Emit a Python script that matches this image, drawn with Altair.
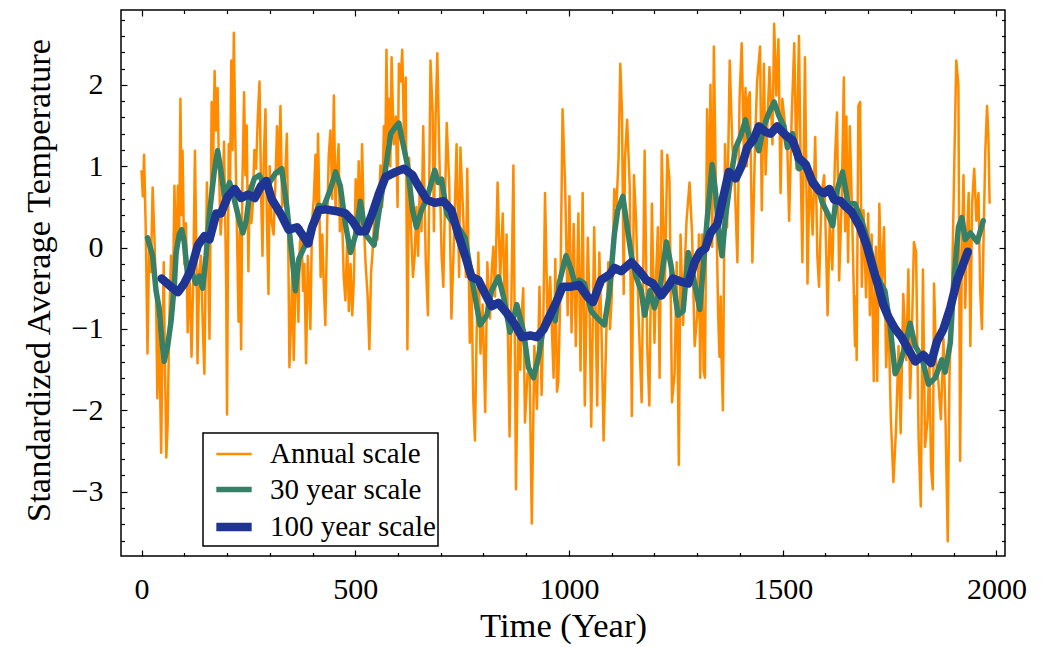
import altair as alt
import pandas as pd

# ---------------- data ----------------
annual_0_300 = [
    (0, 0.95), (3, 0.63), (6, 1.14), (10, 0.20), (14, -1.30), (18, 0.10), (22, -0.30), (26, 0.74),
    (30, 0.16), (34, -0.60), (37, -1.85), (41, -0.90), (46, -2.52), (49, -1.20), (52, -0.18),
    (55, -1.50), (58, -2.58), (61, -2.20), (65, -0.90), (69, -0.10), (73, -0.80), (77, 0.76),
    (81, -0.30), (85, 0.76), (88, 0.10), (91, 1.83), (94, 0.40), (96, 1.19), (100, -0.20),
    (104, 0.30), (108, -1.04), (112, -0.20), (117, -1.34), (121, -0.40), (125, 1.19), (128, 0.10),
    (131, -1.42), (135, -0.30), (139, -0.10), (143, -0.90), (147, -1.55), (150, -0.30), (153, 0.80),
    (156, -0.20), (159, -1.12), (162, 0.50), (164, 1.79), (167, 0.90), (171, 2.17), (174, 1.44),
    (178, 1.96), (181, 1.00), (185, 0.16), (189, 0.50), (193, 1.30), (196, 0.30), (198, -0.44),
    (200, -2.05), (204, 1.27), (207, 0.70), (210, 2.30), (213, 1.20), (216, 2.64), (219, 1.49),
    (223, 0.30), (227, -0.91), (230, 0.20), (233, -1.25), (236, 0.80), (240, 1.91), (243, 0.89),
    (246, 1.50), (250, -0.29), (253, 0.76), (257, 0.30), (260, 0.50), (264, 1.20), (268, 0.97),
    (272, 1.60), (276, 2.04), (280, 0.60), (283, -0.10), (286, 1.10), (290, 1.70), (293, 0.40),
    (297, -0.57), (300, 1.00),
]
annual_300_635 = [
    (304, 0.33), (309, 0.16), (313, 0.76), (317, 1.49), (321, 0.90), (325, 1.74), (329, 0.50),
    (333, 0.67), (337, 1.00), (340, 1.40), (343, 0.20), (346, -1.47), (350, -0.87), (353, -0.20),
    (356, -1.38), (360, -0.50), (364, -0.18), (367, -0.91), (370, 0.00), (374, 0.25), (378, -0.53),
    (381, -0.20), (385, -1.42), (389, -0.10), (392, -0.50), (395, -1.00), (399, 0.33), (403, 0.60),
    (407, 1.14), (410, 0.30), (413, 1.40), (416, 0.50), (419, -0.36), (423, 0.16), (426, -0.40),
    (430, -0.95), (434, 0.20), (438, 1.14), (442, 1.44), (446, 0.60), (450, 1.87), (454, 0.42),
    (457, 0.90), (461, 1.27), (464, 0.20), (468, 0.63), (473, -0.36), (477, -0.65), (481, 0.10),
    (485, -0.78), (489, -0.20), (493, -0.83), (497, -0.36), (501, 0.84), (505, 0.20), (508, 1.06),
    (512, 0.16), (516, 1.27), (520, 0.30), (524, -0.18), (529, -0.60), (533, -1.25), (537, -0.30),
    (540, -0.10), (544, 0.30), (548, 0.67), (552, 0.10), (556, 0.60), (559, 1.01), (563, 0.50),
    (567, 1.49), (570, 1.00), (573, 2.43), (576, 1.30), (579, 1.83), (582, 1.00), (585, 2.34),
    (590, 1.27), (595, 1.61), (599, 0.50), (602, 2.26), (606, 2.04), (610, 2.43), (614, 1.36),
    (618, 2.09), (622, -1.25), (626, 1.10), (630, 0.30), (635, -0.36),
]
annual_635_970 = [
    (639, -0.10), (643, 0.50), (647, -0.10), (651, 0.80), (655, 0.20), (659, 1.49), (665, -0.18),
    (670, -0.83), (676, 2.30), (681, 1.66), (684, 0.20), (688, 1.61), (692, 2.39), (696, 1.31),
    (702, -0.10), (706, -0.48), (710, 0.60), (714, 1.53), (720, 0.76), (725, -0.87), (731, 0.12),
    (737, 1.27), (743, -0.36), (746, 1.23), (753, 0.33), (759, -0.36), (762, 0.97), (768, -1.17),
    (772, -0.40), (776, -1.85), (780, -2.37), (784, -1.04), (788, -0.06), (793, -1.30), (798, -0.70),
    (804, -2.02), (809, -0.18), (815, -0.87), (819, -0.30), (823, 0.01), (827, -0.60), (833, 0.80),
    (839, -0.40), (845, 0.42), (850, -0.78), (854, 0.16), (857, -1.00), (861, -2.32), (866, -0.36),
    (870, 1.01), (876, -2.97), (882, -0.74), (886, -1.50), (889, -0.87), (893, -0.50), (897, -2.15),
    (903, -1.55), (908, -1.51), (913, -3.39), (919, -1.21), (925, -1.98), (931, -0.48), (936, -1.81),
    (940, -0.90), (944, 0.67), (950, -0.95), (956, -0.36), (960, -1.00), (964, -1.60), (968, -0.14),
]
annual_970_1300 = [
    (972, -1.77), (975, -1.64), (980, -0.50), (985, 1.70), (991, 0.76), (997, -0.83), (1001, 0.63),
    (1006, -1.04), (1011, 0.29), (1016, -1.21), (1022, 0.42), (1027, -1.51), (1032, 0.67),
    (1037, -1.94), (1044, 0.12), (1048, -0.70), (1052, -2.20), (1059, 0.25), (1066, -1.94),
    (1071, -0.06), (1076, -1.00), (1081, -2.37), (1087, -1.12), (1092, -0.18), (1096, -1.00),
    (1100, -0.61), (1106, 0.72), (1111, 0.50), (1116, 1.10), (1120, 2.26), (1124, 1.66),
    (1128, -0.57), (1131, 1.10), (1136, 1.57), (1142, 0.76), (1147, -2.07), (1152, 0.89),
    (1157, 0.33), (1163, -0.87), (1170, -1.90), (1177, 1.19), (1183, -1.21), (1188, -1.94),
    (1194, 0.54), (1200, -1.17), (1204, -0.30), (1208, 0.25), (1212, -1.60), (1217, 1.19),
    (1224, -0.53), (1230, 1.14), (1235, 0.84), (1241, -1.90), (1247, -1.55), (1252, -0.18),
    (1257, -2.67), (1261, 0.16), (1267, -0.95), (1271, -0.20), (1275, 0.33), (1282, 0.80),
    (1288, 0.16), (1294, -1.21), (1300, -0.83),
]
annual_1300_1640 = [
    (1304, 0.16), (1307, -1.60), (1311, 0.16), (1315, -1.51), (1318, -1.60), (1323, 1.70),
    (1327, 0.50), (1331, 2.00), (1335, 0.01), (1339, 2.47), (1343, 0.97), (1349, -0.83),
    (1352, -1.34), (1355, -0.60), (1357, -1.38), (1360, -2.00), (1365, 1.27), (1370, 0.25),
    (1376, 2.30), (1382, 1.27), (1388, 0.76), (1394, -0.18), (1399, 1.83), (1404, 2.51),
    (1409, 1.19), (1413, 1.96), (1416, 1.00), (1419, 1.83), (1423, 1.91), (1429, -0.18),
    (1435, 1.23), (1440, 2.04), (1447, 2.47), (1451, 0.46), (1456, 2.26), (1460, 0.90),
    (1464, 1.49), (1469, 2.22), (1476, 1.27), (1480, 2.75), (1485, 1.87), (1490, 2.56),
    (1495, 0.67), (1499, 1.83), (1505, 1.53), (1511, 1.19), (1515, 0.33), (1521, 1.61),
    (1527, 2.51), (1532, 0.97), (1538, 2.60), (1542, 1.00), (1546, -0.18), (1552, 2.34),
    (1558, -0.44), (1563, 0.97), (1570, 0.16), (1576, 1.36), (1581, -0.10), (1585, -0.48),
    (1591, 0.67), (1597, 0.89), (1601, 0.10), (1605, -0.83), (1610, 0.33), (1616, -0.27),
    (1622, 1.06), (1627, 1.66), (1632, -0.40), (1638, 0.59),
]
annual_1640_1984 = [
    (1643, 2.09), (1646, 0.20), (1649, 1.61), (1653, -0.18), (1657, 1.49), (1663, 0.25),
    (1669, -1.21), (1671, -0.60), (1673, -1.38), (1677, 1.74), (1681, 1.79), (1685, -0.48),
    (1689, 0.46), (1695, -0.61), (1700, 0.42), (1704, -0.83), (1708, 0.16), (1713, -1.64),
    (1718, 0.01), (1721, -1.64), (1726, 0.54), (1731, -0.53), (1737, 0.25), (1742, -1.47),
    (1747, -0.74), (1753, -2.11), (1759, -2.88), (1765, -2.24), (1771, -1.21), (1776, -2.28),
    (1782, -0.57), (1789, -1.38), (1794, -0.27), (1798, -1.85), (1802, -1.08), (1807, 0.07),
    (1812, -0.06), (1818, -2.37), (1823, -3.18), (1828, -0.27), (1833, -2.45), (1839, -2.11),
    (1843, -1.34), (1847, -2.71), (1851, -2.97), (1854, -0.44), (1859, -1.42), (1864, -1.64),
    (1870, -2.11), (1876, -1.12), (1881, -2.15), (1886, -3.61), (1890, -1.60), (1896, -0.53),
    (1901, 0.93), (1906, 2.30), (1911, 2.00), (1915, -2.62), (1919, -0.06), (1923, 0.89),
    (1927, -0.74), (1931, 0.12), (1935, 0.67), (1939, -1.21), (1943, 0.54), (1948, 0.97),
    (1953, 0.33), (1958, 0.67), (1962, -0.53), (1966, -1.00), (1970, 0.16), (1974, 1.19),
    (1978, 1.74), (1981, 1.40), (1984, 0.54),
]

scale30 = [
    (14, 0.12), (26, -0.10), (34, -0.53), (41, -0.74), (49, -1.21), (53, -1.40), (61, -1.21),
    (69, -0.91), (77, -0.44), (81, -0.06), (88, 0.16), (94, 0.22), (100, 0.07), (108, -0.35),
    (116, -0.27), (127, -0.44), (135, -0.35), (143, -0.50), (151, -0.10), (159, 0.42), (170, 0.93),
    (178, 1.19), (185, 0.97), (194, 0.63), (206, 0.80), (217, 0.59), (229, 0.33), (237, 0.18),
    (245, 0.33), (253, 0.67), (264, 0.85), (276, 0.89), (284, 0.80), (292, 0.74), (313, 0.91),
    (328, 0.97), (340, 0.50), (352, -0.10), (360, -0.53), (368, -0.14), (383, 0.03), (399, 0.29),
    (415, 0.52), (426, 0.50), (442, 0.72), (454, 0.93), (465, 0.76), (477, 0.29), (489, -0.06),
    (501, 0.16), (512, 0.57), (524, 0.16), (544, 0.03), (555, 0.42), (571, 0.97), (583, 1.40),
    (595, 1.49), (602, 1.53), (610, 1.32), (622, 1.02), (634, 0.46), (643, 0.25), (655, 0.46),
    (667, 0.59), (676, 0.76), (686, 0.95), (694, 0.80), (702, 0.84), (714, 0.42), (725, 0.33),
    (741, 0.25), (757, 0.12), (764, -0.10), (776, -0.48), (792, -0.95), (808, -0.83), (819, -0.53),
    (835, -0.36), (847, -0.61), (862, -1.04), (878, -0.70), (894, -1.04), (905, -1.47),
    (917, -1.60), (929, -1.34), (941, -0.95), (956, -0.78), (968, -0.90), (977, -0.44),
    (993, -0.10), (1005, -0.27), (1016, -0.48), (1024, -0.40), (1036, -0.44), (1052, -0.78),
    (1067, -0.87), (1083, -0.95), (1095, -0.53), (1106, 0.16), (1114, 0.46), (1126, 0.63),
    (1134, 0.33), (1146, -0.10), (1157, -0.36), (1169, -0.53), (1177, -0.83), (1189, -0.53),
    (1200, -0.74), (1212, -0.53), (1228, 0.07), (1239, -0.23), (1255, -0.83), (1267, -0.78),
    (1279, -0.06), (1294, -0.44), (1306, -0.76), (1313, -0.31), (1323, 0.33), (1335, 1.02),
    (1343, 0.67), (1351, 0.16), (1358, -0.10), (1366, 0.37), (1378, 0.85), (1390, 1.23),
    (1401, 1.36), (1413, 1.57), (1425, 1.27), (1437, 1.32), (1444, 1.19), (1456, 1.49),
    (1468, 1.66), (1480, 1.79), (1491, 1.62), (1503, 1.49), (1511, 1.23), (1523, 1.40),
    (1538, 0.97), (1554, 1.02), (1570, 0.85), (1581, 0.76), (1593, 0.55), (1605, 0.42),
    (1617, 0.27), (1628, 0.72), (1640, 0.93), (1653, 0.54), (1669, 0.54), (1685, 0.33),
    (1704, -0.01), (1720, -0.35), (1739, -0.53), (1751, -0.95), (1763, -1.55), (1775, -1.42),
    (1786, -1.21), (1798, -0.93), (1810, -1.21), (1825, -1.34), (1841, -1.68), (1857, -1.60),
    (1872, -1.38), (1880, -1.53), (1892, -1.17), (1900, -0.44), (1911, 0.25), (1919, 0.37),
    (1927, 0.10), (1939, 0.18), (1955, 0.07), (1969, 0.33),
]

scale100 = [
    (47, -0.38), (69, -0.48), (85, -0.55), (100, -0.44), (116, -0.27), (132, 0.03), (147, 0.14),
    (159, 0.10), (175, 0.42), (186, 0.42), (202, 0.63), (218, 0.72), (233, 0.61), (249, 0.65),
    (265, 0.61), (280, 0.76), (292, 0.82), (305, 0.59), (325, 0.42), (344, 0.22), (364, 0.25),
    (376, 0.16), (390, 0.05), (399, 0.25), (415, 0.46), (430, 0.47), (454, 0.45), (477, 0.42),
    (493, 0.33), (509, 0.20), (524, 0.20), (540, 0.42), (556, 0.67), (571, 0.87), (595, 0.93),
    (614, 0.97), (634, 0.89), (643, 0.80), (667, 0.59), (686, 0.55), (706, 0.57), (725, 0.46),
    (741, 0.16), (757, -0.10), (772, -0.36), (788, -0.40), (804, -0.57), (819, -0.72),
    (835, -0.68), (854, -0.80), (874, -0.95), (890, -1.10), (909, -1.08), (925, -1.10),
    (941, -1.00), (956, -0.83), (972, -0.65), (985, -0.48), (1005, -0.48), (1024, -0.46),
    (1044, -0.61), (1056, -0.67), (1075, -0.40), (1095, -0.33), (1106, -0.25), (1122, -0.29),
    (1146, -0.18), (1165, -0.29), (1181, -0.40), (1196, -0.44), (1216, -0.59), (1232, -0.48),
    (1243, -0.38), (1263, -0.42), (1279, -0.44), (1294, -0.18), (1306, -0.06), (1319, -0.01),
    (1331, 0.18), (1347, 0.29), (1358, 0.55), (1374, 0.93), (1390, 0.85), (1405, 1.02),
    (1417, 1.23), (1433, 1.34), (1444, 1.49), (1460, 1.42), (1472, 1.40), (1487, 1.49),
    (1507, 1.38), (1523, 1.32), (1538, 1.10), (1554, 1.02), (1570, 0.80), (1585, 0.70),
    (1597, 0.67), (1609, 0.72), (1620, 0.59), (1636, 0.57), (1648, 0.50), (1661, 0.44),
    (1681, 0.25), (1696, 0.03), (1712, -0.27), (1724, -0.48), (1735, -0.70), (1747, -0.85),
    (1763, -1.00), (1778, -1.10), (1794, -1.25), (1810, -1.40), (1829, -1.32), (1847, -1.42),
    (1861, -1.15), (1876, -1.00), (1892, -0.74), (1908, -0.40), (1919, -0.25), (1933, -0.05),
]

series_names = ["Annual scale", "30 year scale", "100 year scale"]
series_colors = ["#FF8C00", "#378068", "#1F3594"]
series_widths = [2.5, 5.5, 8.5]

x_label_values = [0, 500, 1000, 1500, 2000]
y_label_values = [-3, -2, -1, 0, 1, 2]
x_tick_values = list(range(0, 2001, 100))
y_tick_values = [round(-3.6 + 0.2 * i, 1) for i in range(33)]


def to_frame(pairs, name):
    return pd.DataFrame({"year": [p[0] for p in pairs],
                         "value": [p[1] for p in pairs],
                         "series": name})


annual = (annual_0_300 + annual_300_635 + annual_635_970 + annual_970_1300
          + annual_1300_1640 + annual_1640_1984)
df = pd.concat([to_frame(annual, series_names[0]),
                to_frame(scale30, series_names[1]),
                to_frame(scale100, series_names[2])], ignore_index=True)

# ---------------- chart ----------------
W, H = 884, 546
FONT = "Liberation Serif"
xs = alt.Scale(domain=[-48, 2020], nice=False, zero=False)
ys = alt.Scale(domain=[-3.79, 2.92], nice=False, zero=False)

legend = alt.Legend(title=None, orient="none", legendX=82, legendY=423, direction="vertical",
                    symbolType="stroke", symbolSize=1250, symbolOffset=7,
                    labelFont=FONT, labelFontSize=29,
                    labelColor="black", strokeColor="black", fillColor="white", padding=2,
                    rowPadding=-1, labelOffset=14, labelLimit=400)
color = alt.Color("series:N", scale=alt.Scale(domain=series_names, range=series_colors), legend=legend)
stroke_w = alt.StrokeWidth("series:N", scale=alt.Scale(type="ordinal", domain=series_names,
                                                       range=series_widths), legend=legend)

x_main = alt.Axis(orient="bottom", values=x_label_values, ticks=False, domain=False, grid=False,
                  labelFont=FONT, labelFontSize=30, labelColor="black", labelPadding=18,
                  labelFlush=False, labelOverlap=False, format="d",
                  title="Time (Year)", titleFont=FONT, titleFontSize=34.5, titleFontWeight="normal",
                  titleColor="black", titleX=442, titleY=80, titleBaseline="alphabetic",
                  titleAlign="center")
y_main = alt.Axis(orient="left", values=y_label_values, ticks=False, domain=False, grid=False,
                  labelFont=FONT, labelFontSize=30, labelColor="black", labelPadding=18,
                  labelFlush=False, labelOverlap=False, format="d",
                  title="Standardized Average Temperature", titleFont=FONT, titleFontSize=34.5,
                  titleFontWeight="normal", titleColor="black", titleX=-72, titleY=270,
                  titleAngle=270, titleBaseline="alphabetic", titleAlign="center")

x_tick_size = {"condition": {"test": "datum.value % 500 === 0", "value": 6}, "value": 3.5}
y_tick_size = {"condition": {"test": "abs(datum.value - round(datum.value)) < 0.001", "value": 6},
               "value": 3.5}


def tick_axis(orient, offset, values, size):
    return alt.Axis(orient=orient, offset=offset, values=values, labels=False, domain=False,
                    grid=False, title=None, tickSize=size, tickColor="black", tickWidth=1.2)


base = alt.Chart(df)

annual_layer = base.transform_filter(alt.datum.series == series_names[0]).mark_line(
    strokeJoin="round").encode(
    x=alt.X("year:Q", scale=xs, axis=x_main),
    y=alt.Y("value:Q", scale=ys, axis=y_main),
    color=color, strokeWidth=stroke_w)

green_layer = base.transform_filter(alt.datum.series == series_names[1]).mark_line(
    strokeJoin="round", strokeCap="round").encode(
    x=alt.X("year:Q", scale=xs, axis=tick_axis("top", -H, x_tick_values, x_tick_size)),
    y=alt.Y("value:Q", scale=ys, axis=tick_axis("right", -W, y_tick_values, y_tick_size)),
    color=color, strokeWidth=stroke_w)

blue_layer = base.transform_filter(alt.datum.series == series_names[2]).mark_line(
    strokeJoin="round", strokeCap="round").encode(
    x=alt.X("year:Q", scale=xs, axis=tick_axis("bottom", -H, x_tick_values, x_tick_size)),
    y=alt.Y("value:Q", scale=ys, axis=tick_axis("left", -W, y_tick_values, y_tick_size)),
    color=color, strokeWidth=stroke_w)

chart = alt.layer(annual_layer, green_layer, blue_layer).resolve_axis(
    x="independent", y="independent").properties(
    width=W, height=H,
    padding={"left": 121, "top": 10, "right": 38, "bottom": 91},
    autosize=alt.AutoSizeParams(type="none"),
    background="white",
).configure_view(stroke="black", strokeWidth=1.5).configure_legend(strokeWidth=1.5)

chart.save("out.html", embed_options={"renderer": "svg", "actions": False})
